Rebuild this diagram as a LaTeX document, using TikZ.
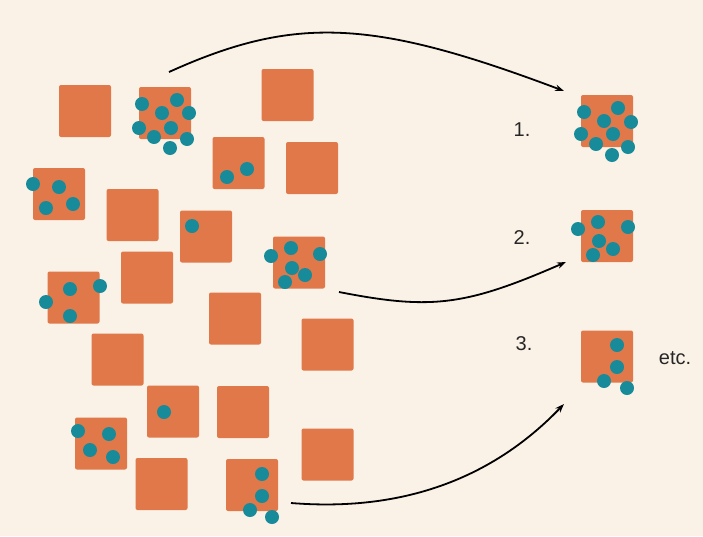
\documentclass[tikz,border=0pt]{standalone}
\usepackage{fontspec}
\setmainfont{Liberation Sans}
\usetikzlibrary{arrows.meta}
\definecolor{bgc}{HTML}{FBF2E7}
\definecolor{sqc}{HTML}{E0784A}
\definecolor{dotc}{HTML}{178B99}
\tikzset{
  sq/.style={fill=sqc, rounded corners=2pt, minimum size=52pt, inner sep=0pt, draw=none},
  dot/.style={circle, fill=dotc, minimum size=14pt, inner sep=0pt, draw=none},
  lbl/.style={font=\fontsize{20}{24}\selectfont, text=black!85, inner sep=0pt},
  arr/.style={line width=1.8pt, -{Stealth[length=9pt,width=6.5pt]}}
}
\begin{document}
\begin{tikzpicture}[x=1pt,y=-1pt]
\fill[bgc] (0,0) rectangle (703,536);
\useasboundingbox (0,0) rectangle (703,536);
% squares
\node[sq] (A) at (85,111) {};
\node[sq] (B) at (165,113) {};
\node[sq] (C) at (287.5,95) {};
\node[sq] (D) at (238.5,163) {};
\node[sq] (E) at (312,168) {};
\node[sq] (F) at (59,194) {};
\node[sq] (G) at (132.5,215) {};
\node[sq] (H) at (206,236.5) {};
\node[sq] (I) at (299,262.5) {};
\node[sq] (J) at (147,277.5) {};
\node[sq] (K) at (73.5,297.5) {};
\node[sq] (L) at (235,318.5) {};
\node[sq] (M) at (327.5,344.5) {};
\node[sq] (N) at (117.5,359.5) {};
\node[sq] (O) at (173,411.5) {};
\node[sq] (P) at (243,412) {};
\node[sq] (Q) at (101,443.5) {};
\node[sq] (R) at (161.5,484) {};
\node[sq] (S) at (252,485) {};
\node[sq] (T) at (327.5,454.5) {};
\node[sq] (R1) at (607,121) {};
\node[sq] (R2) at (607,236) {};
\node[sq] (R3) at (607,356.5) {};
% dots
\foreach \p [count=\i] in {{142,104},{177,100},{162,113},{189,113},{139,128},{171,128},{154,137},{187,139},{170,148}}
  \node[dot] (b\i) at (\p) {};
\foreach \p [count=\i] in {{227,177},{247,169}}
  \node[dot] (d\i) at (\p) {};
\foreach \p [count=\i] in {{33,184},{59,187},{46,208},{73,204}}
  \node[dot] (f\i) at (\p) {};
\node[dot] (h1) at (192,226) {};
\foreach \p [count=\i] in {{271,256},{291,248},{320,254},{292,268},{305,275},{285,282}}
  \node[dot] (i\i) at (\p) {};
\foreach \p [count=\i] in {{46,302},{70,289},{100,286},{70,316}}
  \node[dot] (k\i) at (\p) {};
\node[dot] (o1) at (164,412) {};
\foreach \p [count=\i] in {{78,431},{109,434},{90,450},{113,457}}
  \node[dot] (q\i) at (\p) {};
\foreach \p [count=\i] in {{262,474},{262,496},{250,510},{272,517}}
  \node[dot] (s\i) at (\p) {};
\foreach \p [count=\i] in {{584,112},{618,108},{604,121},{631,122},{581,134},{613,134},{596,144},{628,147},{612,155}}
  \node[dot] (ra\i) at (\p) {};
\foreach \p [count=\i] in {{578,229},{598,222},{628,227},{599,241},{613,249},{593,255}}
  \node[dot] (rb\i) at (\p) {};
\foreach \p [count=\i] in {{617,345},{617,367},{604,381},{627,388}}
  \node[dot] (rc\i) at (\p) {};
% labels
\node[lbl] (l1) at (522,130) {1.};
\node[lbl] (l2) at (522,238) {2.};
\node[lbl] (l3) at (524,344) {3.};
\node[lbl] (l4) at (675,358) {etc.};
% arrows
\coordinate (a1s) at (169,72);
\coordinate (a1e) at (564,91);
\coordinate (a2s) at (339,292);
\coordinate (a2e) at (566,262);
\coordinate (a3s) at (291,503);
\coordinate (a3e) at (564,404);
\draw[arr] (a1s) .. controls (295,15) and (373,19) .. (a1e);
\draw[arr] (a2s) .. controls (431,310) and (465,306) .. (a2e);
\draw[arr] (a3s) .. controls (402,512) and (492,479) .. (a3e);
\end{tikzpicture}
\end{document}
